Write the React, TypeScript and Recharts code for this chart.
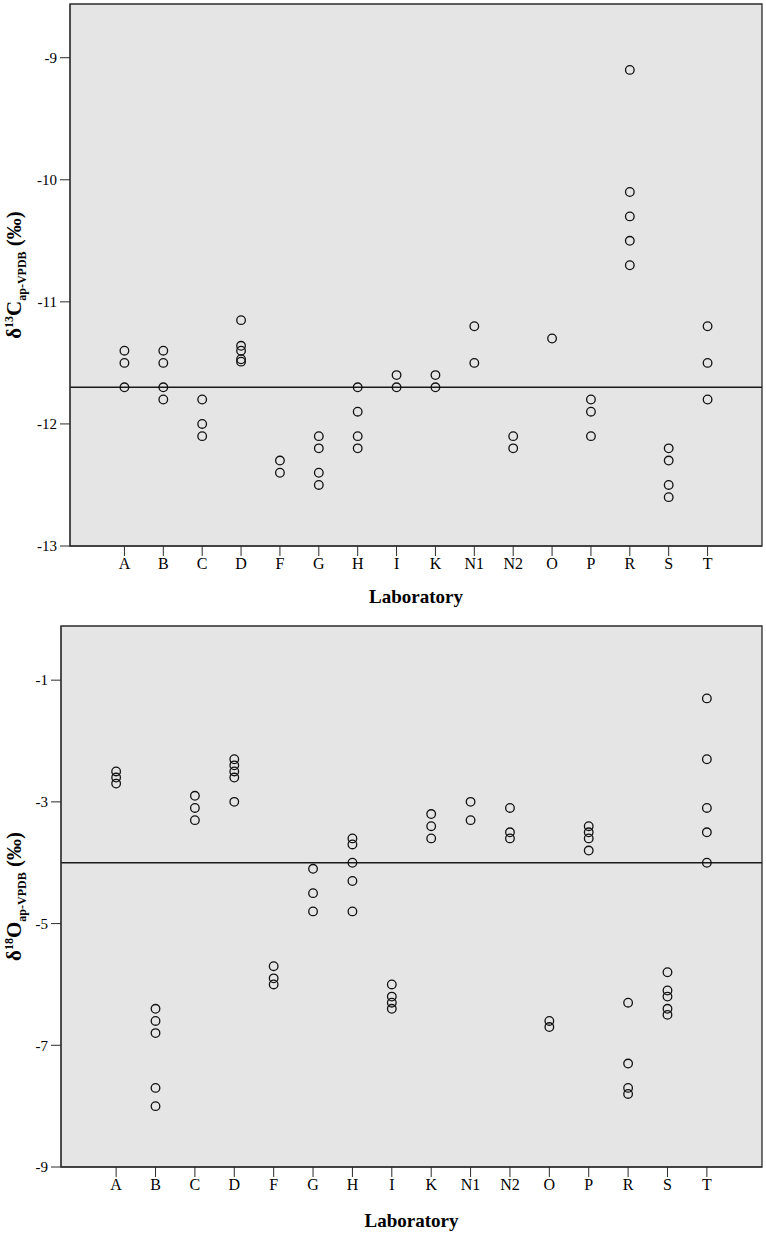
import { ReferenceArea, ReferenceLine, Scatter, ScatterChart, XAxis, YAxis } from "recharts";

const labs = ["A", "B", "C", "D", "F", "G", "H", "I", "K", "N1", "N2", "O", "P", "R", "S", "T"];

// δ13C per laboratory, same order as labs
const carbon13 = [
  [-11.4, -11.5, -11.7],
  [-11.4, -11.5, -11.7, -11.8],
  [-11.8, -12.0, -12.1],
  [-11.15, -11.36, -11.4, -11.47, -11.49],
  [-12.3, -12.4],
  [-12.1, -12.2, -12.4, -12.5],
  [-11.7, -11.9, -12.1, -12.2],
  [-11.6, -11.7],
  [-11.6, -11.7],
  [-11.2, -11.5],
  [-12.1, -12.2],
  [-11.3],
  [-11.8, -11.9, -12.1],
  [-9.1, -10.1, -10.3, -10.5, -10.7],
  [-12.2, -12.3, -12.5, -12.6],
  [-11.2, -11.5, -11.8],
];

// δ18O per laboratory
const oxygen18 = [
  [-2.5, -2.6, -2.7],
  [-6.4, -6.6, -6.8, -7.7, -8.0],
  [-2.9, -3.1, -3.3],
  [-2.3, -2.4, -2.5, -2.6, -3.0],
  [-5.7, -5.9, -6.0],
  [-4.1, -4.5, -4.8],
  [-3.6, -3.7, -4.0, -4.3, -4.8],
  [-6.0, -6.2, -6.3, -6.4],
  [-3.2, -3.4, -3.6],
  [-3.0, -3.3],
  [-3.1, -3.5, -3.6],
  [-6.6, -6.7],
  [-3.4, -3.5, -3.6, -3.8],
  [-6.3, -7.3, -7.7, -7.8],
  [-5.8, -6.1, -6.2, -6.4, -6.5],
  [-1.3, -2.3, -3.1, -3.5, -4.0],
];

const carbonTicks = [-13, -12, -11, -10, -9];
const oxygenTicks = [-9, -7, -5, -3, -1];
const carbonMean = -11.7;
const oxygenMean = -4.0;

const FONT = "'Liberation Serif', 'Times New Roman', serif";
const xDomain: [number, number] = [-1.4, 16.4];

function toPoints(values: number[][]) {
  return values.flatMap((vals, i) => vals.map((v) => ({ x: i, y: v })));
}

function OpenCircle(props: any) {
  return <circle cx={props.cx} cy={props.cy} r={4.3} fill="none" stroke="#111" strokeWidth={1.3} />;
}

function YLabel({ viewBox, element }: any) {
  const cx = 21;
  const cy = viewBox.y + viewBox.height / 2;
  return (
    <text
      x={cx}
      y={cy}
      transform={`rotate(-90, ${cx}, ${cy})`}
      textAnchor="middle"
      fontFamily={FONT}
      fontWeight="bold"
      fontSize={21}
      fill="#000"
    >
      <tspan>δ</tspan>
      <tspan dy={-8} fontSize={12}>{element === "C" ? "13" : "18"}</tspan>
      <tspan dy={8}>{element}</tspan>
      <tspan dy={5} fontSize={12}>ap-VPDB</tspan>
      <tspan dy={-5}> (‰)</tspan>
    </text>
  );
}

function XLabel({ cx, y }: any) {
  return (
    <text x={cx} y={y} textAnchor="middle" fontFamily={FONT} fontWeight="bold" fontSize={19} fill="#000">
      Laboratory
    </text>
  );
}

type PlotProps = {
  values: number[][];
  ticks: number[];
  yDomain: [number, number];
  mean: number;
  element: string;
  height: number;
  top: number;
  yWidth: number;
  xHeight: number;
  labelY: number;
};

function LabPlot({ values, ticks, yDomain, mean, element, height, top, yWidth, xHeight, labelY }: PlotProps) {
  const tickStyle = { fontFamily: FONT, fontSize: 15, fill: "#000" };
  return (
    <ScatterChart width={766} height={height} margin={{ top, right: 4, bottom: 0, left: 0 }}>
      <ReferenceArea
        x1={xDomain[0]}
        x2={xDomain[1]}
        y1={yDomain[0]}
        y2={yDomain[1]}
        fill="#e5e5e5"
        fillOpacity={1}
        stroke="#2b2b2b"
        strokeWidth={1.3}
      />
      <XAxis
        type="number"
        dataKey="x"
        domain={xDomain}
        ticks={labs.map((_, i) => i)}
        tickFormatter={(i: number) => labs[i]}
        allowDataOverflow
        height={xHeight}
        tickSize={10}
        tickMargin={2}
        interval={0}
        stroke="#2b2b2b"
        tick={{ ...tickStyle, fontSize: 16 }}
      />
      <YAxis
        type="number"
        dataKey="y"
        domain={yDomain}
        ticks={ticks}
        allowDataOverflow
        width={yWidth}
        tickSize={10}
        tickMargin={3}
        interval={0}
        stroke="#2b2b2b"
        tick={tickStyle}
        label={<YLabel element={element} />}
      />
      <ReferenceLine y={mean} stroke="#1a1a1a" strokeWidth={1.5} />
      <Scatter data={toPoints(values)} shape={<OpenCircle />} isAnimationActive={false} />
      <XLabel cx={(yWidth + 762) / 2} y={labelY} />
    </ScatterChart>
  );
}

export default function App() {
  return (
    <div style={{ position: "absolute", left: 0, top: 0, width: 766, height: 1233, background: "#fff" }}>
      <div style={{ position: "absolute", left: 0, top: 0 }}>
        <LabPlot
          values={carbon13}
          ticks={carbonTicks}
          yDomain={[-13, -8.56]}
          mean={carbonMean}
          element="C"
          height={620}
          top={4}
          yWidth={70}
          xHeight={74}
          labelY={603}
        />
      </div>
      <div style={{ position: "absolute", left: 0, top: 620 }}>
        <LabPlot
          values={oxygen18}
          ticks={oxygenTicks}
          yDomain={[-9, -0.11]}
          mean={oxygenMean}
          element="O"
          height={613}
          top={6}
          yWidth={61}
          xHeight={66}
          labelY={607}
        />
      </div>
    </div>
  );
}
